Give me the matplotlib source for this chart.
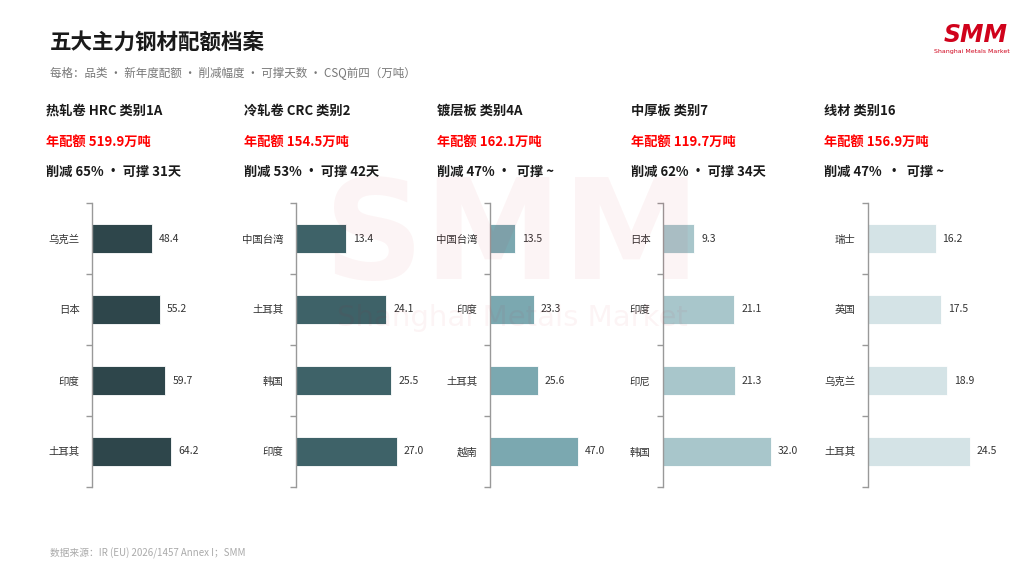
import matplotlib
matplotlib.use("Agg")
import matplotlib.pyplot as plt

plt.rcParams['font.family'] = ['Noto Sans CJK SC', 'DejaVu Sans']
plt.rcParams['axes.unicode_minus'] = False

# 数据
titles = ["热轧卷 HRC 类别1A", "冷轧卷 CRC 类别2", "镀层板 类别4A", "中厚板 类别7", "线材 类别16"]
quotas = ["年配额 519.9万吨", "年配额 154.5万吨", "年配额 162.1万吨", "年配额 119.7万吨", "年配额 156.9万吨"]
notes = ["削减 65% · 可撑 31天", "削减 53% · 可撑 42天", "削减 47% ·  可撑 ~",
         "削减 62% · 可撑 34天", "削减 47%  ·  可撑 ~"]
countries = [
    ["乌克兰", "日本", "印度", "土耳其"],
    ["中国台湾", "土耳其", "韩国", "印度"],
    ["中国台湾", "印度", "土耳其", "越南"],
    ["日本", "印度", "印尼", "韩国"],
    ["瑞士", "英国", "乌克兰", "土耳其"],
]
values = [
    [48.4, 55.2, 59.7, 64.2],
    [13.4, 24.1, 25.5, 27.0],
    [13.5, 23.3, 25.6, 47.0],
    [9.3, 21.1, 21.3, 32.0],
    [16.2, 17.5, 18.9, 24.5],
]
colors = ["#2e464b", "#3e6268", "#7ba8b0", "#a8c6cb", "#d4e3e6"]
x_max = [122, 40.1, 80, 44.4, 36]

W, H = 1024, 576
fig = plt.figure(figsize=(W / 100, H / 100), dpi=100)
fig.patch.set_facecolor("white")

# 水印
fig.text(512 / W, 1 - 240 / H, "SMM", ha="center", va="center", fontsize=100,
         fontweight="bold", family="DejaVu Sans", color="#d0021b", alpha=0.045)
fig.text(512 / W, 1 - 318 / H, "Shanghai Metals Market", ha="center", va="center",
         fontsize=21, family="DejaVu Sans", color="#d0021b", alpha=0.045)

# 标题
fig.text(50 / W, 1 - 42 / H, "五大主力钢材配额档案", fontsize=15.5, fontweight="bold",
         color="#1a1a1a", va="center")
fig.text(50 / W, 1 - 74 / H, "每格：品类 · 新年度配额 · 削减幅度 · 可撑天数 · CSQ前四（万吨）",
         fontsize=8.3, color="#777777", va="center")
fig.text(50 / W, 1 - 553 / H, "数据来源：IR (EU) 2026/1457 Annex I；SMM", fontsize=7,
         color="#aaaaaa", va="center", fontstyle="italic")

# logo
fig.text(976 / W, 1 - 35 / H, "SMM", ha="center", va="center", fontsize=17,
         fontweight="bold", fontstyle="italic", family="DejaVu Sans", color="#d0021b")
fig.text(972 / W, 1 - 51 / H, "Shanghai Metals Market", ha="center", va="center",
         fontsize=4.5, family="DejaVu Sans", color="#d0021b")

head_x = [46, 244, 437, 631, 824]
spine_x = [92, 296, 490, 663, 868]
ax_bottom = (H - 487) / H
ax_height = (487 - 203) / H
ax_width = 150 / W

for i in range(5):
    fig.text(head_x[i] / W, 1 - 111 / H, titles[i], fontsize=9.5, fontweight="bold",
             color="#1a1a1a", va="center")
    fig.text(head_x[i] / W, 1 - 142 / H, quotas[i], fontsize=9.5, fontweight="bold",
             color="#ff0000", va="center")
    fig.text(head_x[i] / W, 1 - 172 / H, notes[i], fontsize=9.5, fontweight="bold",
             color="#1a1a1a", va="center")

    ax = fig.add_axes([spine_x[i] / W, ax_bottom, ax_width, ax_height])
    ax.patch.set_alpha(0)
    y = range(len(values[i]))
    ax.barh(y, values[i], height=0.4, color=colors[i], edgecolor="white", linewidth=0.6)
    for yy, v in zip(y, values[i]):
        ax.annotate(f"{v:.1f}", (v, yy), xytext=(5, 0), textcoords="offset points",
                    ha="left", va="center", fontsize=7.5, color="#333333")
    ax.set_xlim(0, x_max[i])
    ax.set_ylim(3.5, -0.5)
    ax.set_yticks(list(y))
    ax.set_yticklabels(countries[i], fontsize=7.5, color="#333333")
    ax.tick_params(axis="y", which="major", length=0, pad=9)
    ax.set_yticks([-0.5, 0.5, 1.5, 2.5, 3.5], minor=True)
    ax.tick_params(axis="y", which="minor", length=4, width=1, color="#999999")
    ax.set_xticks([])
    for s in ["top", "right", "bottom"]:
        ax.spines[s].set_visible(False)
    ax.spines["left"].set_color("#999999")
    ax.spines["left"].set_linewidth(1)

plt.savefig("out.png", dpi=100)
